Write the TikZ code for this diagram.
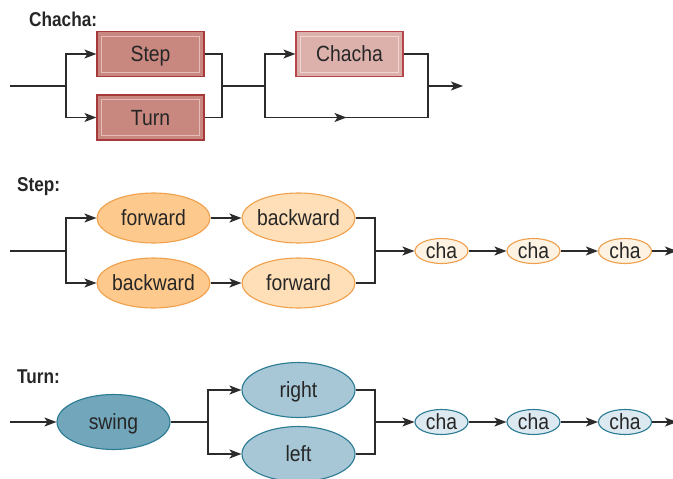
\documentclass[tikz,border=0pt]{standalone}
\usepackage{fontspec}
\setmainfont{Liberation Sans}[FakeStretch=0.88]
\newfontfamily\lblfont{Liberation Sans}[FakeStretch=0.86]
\usetikzlibrary{shapes.geometric,arrows.meta,decorations.markings}
\definecolor{lin}{HTML}{2B2B2B}
\definecolor{txt}{HTML}{262626}
\definecolor{rosefill}{HTML}{C8877F}
\definecolor{roseedge}{HTML}{A63A3A}
\definecolor{roseinner}{HTML}{E6BDB7}
\definecolor{lrosefill}{HTML}{DCB1AC}
\definecolor{lroseedge}{HTML}{B5474A}
\definecolor{lroseinner}{HTML}{EFD6D2}
\definecolor{ordark}{HTML}{FDC98C}
\definecolor{orlight}{HTML}{FEDFB7}
\definecolor{oredge}{HTML}{F0A04C}
\definecolor{orcha}{HTML}{FEF2E2}
\definecolor{bldark}{HTML}{72A6BB}
\definecolor{bllight}{HTML}{A7C6D6}
\definecolor{bledge}{HTML}{2A7B93}
\definecolor{blcha}{HTML}{DDE9F0}
\tikzset{
  conn/.style={draw=lin, line width=1.3pt},
  arr/.style={conn, -{Stealth[length=12pt,width=9pt,inset=3pt]}},
  midarr/.style={conn, postaction={decorate}, decoration={markings, mark=at position 0.5 with {\arrow{Stealth[length=12pt,width=9pt,inset=3pt]}}}},
  lbl/.style={font=\lblfont\fontsize{20}{22}\selectfont\bfseries, text=black!85, inner sep=0pt, anchor=west},
  boxnode/.style={rectangle, draw=#1edge, fill=#1fill, line width=1.2pt, minimum width=107pt, minimum height=45pt, inner sep=0pt,
    font=\fontsize{22}{24}\selectfont, text=txt, text height=15.8pt, text depth=0pt,
    path picture={\draw[#1inner, line width=1pt] ([shift={(4.5pt,-4.5pt)}]path picture bounding box.north west) rectangle ([shift={(-4.5pt,4.5pt)}]path picture bounding box.south east);}},
  ell/.style={ellipse, line width=1.1pt, inner xsep=-12pt, inner ysep=0pt, font=\fontsize{22}{24}\selectfont, text=txt, text height=15.8pt, text depth=0pt},
  big/.style={ell, minimum width=113pt, minimum height=50pt},
  bigt/.style={ell, minimum width=113pt, minimum height=55pt},
  small/.style={ell, minimum width=53pt, minimum height=25pt}
}
\begin{document}
\begin{tikzpicture}[x=1pt,y=-1pt]
\useasboundingbox[fill=white] (0,0) rectangle (673,479);

% ---------- Chacha ----------
\node[lbl] (lch) at (29,19) {Chacha:};
\node[boxnode=rose] (step) at (150.5,54) {Step};
\node[boxnode=rose] (turn) at (150.5,117.5) {Turn};
\node[boxnode=lrose] (chacha) at (349.5,54) {Chacha};
\coordinate (cin) at (10,86);
\coordinate (cs) at (66,86);
\coordinate (cj) at (222,86);
\coordinate (cs2) at (265,86);
\coordinate (cbl) at (265,117.5);
\coordinate (cbr) at (428,117.5);
\coordinate (cj2) at (428,86);
\coordinate (cout) at (463,86);
\draw[conn] (cin) -- (cs);
\draw[arr] (cs) |- (step);
\draw[arr] (cs) |- (turn);
\draw[conn] (step.east) -| (cj);
\draw[conn] (turn.east) -| (cj);
\draw[conn] (cj) -- (cs2);
\draw[arr] (cs2) |- (chacha);
\draw[conn] (cs2) -- (cbl);
\draw[midarr] (cbl) -- (cbr);
\draw[conn] (chacha.east) -| (cj2);
\draw[conn] (cbr) -- (cj2);
\draw[arr] (cj2) -- (cout);

% ---------- Step ----------
\node[lbl] (lst) at (17,187) {Step:};
\node[big, draw=oredge, fill=ordark] (f1) at (153.5,218) {forward};
\node[big, draw=oredge, fill=orlight] (b1) at (298.5,218) {backward};
\node[big, draw=oredge, fill=ordark] (b2) at (153.5,283) {backward};
\node[big, draw=oredge, fill=orlight] (f2) at (298.5,283) {forward};
\node[small, draw=oredge, fill=orcha] (sc1) at (441.5,251) {cha};
\node[small, draw=oredge, fill=orcha] (sc2) at (533.5,251) {cha};
\node[small, draw=oredge, fill=orcha] (sc3) at (625,251) {cha};
\coordinate (sin) at (10,251);
\coordinate (ss) at (66,251);
\coordinate (sj) at (375,251);
\coordinate (sout) at (677,251);
\draw[conn] (sin) -- (ss);
\draw[arr] (ss) |- (f1);
\draw[arr] (ss) |- (b2);
\draw[arr] (f1) -- (b1);
\draw[arr] (b2) -- (f2);
\draw[conn] (b1.east) -| (sj);
\draw[conn] (f2.east) -| (sj);
\draw[arr] (sj) -- (sc1);
\draw[arr] (sc1) -- (sc2);
\draw[arr] (sc2) -- (sc3);
\draw[arr] (sc3) -- (sout);

% ---------- Turn ----------
\node[lbl] (ltu) at (17,377) {Turn:};
\node[bigt, draw=bledge, fill=bldark] (swing) at (113.5,422) {swing};
\node[bigt, draw=bledge, fill=bllight] (right) at (298.5,390) {right};
\node[bigt, draw=bledge, fill=bllight] (left) at (298.5,454) {left};
\node[small, draw=bledge, fill=blcha] (tc1) at (441.5,422) {cha};
\node[small, draw=bledge, fill=blcha] (tc2) at (533.5,422) {cha};
\node[small, draw=bledge, fill=blcha] (tc3) at (625,422) {cha};
\coordinate (tin) at (10,422);
\coordinate (ts) at (208,422);
\coordinate (tj) at (375,422);
\coordinate (tout) at (677,422);
\draw[arr] (tin) -- (swing);
\draw[conn] (swing) -- (ts);
\draw[arr] (ts) |- (right);
\draw[arr] (ts) |- (left);
\draw[conn] (right.east) -| (tj);
\draw[conn] (left.east) -| (tj);
\draw[arr] (tj) -- (tc1);
\draw[arr] (tc1) -- (tc2);
\draw[arr] (tc2) -- (tc3);
\draw[arr] (tc3) -- (tout);
\end{tikzpicture}
\end{document}
